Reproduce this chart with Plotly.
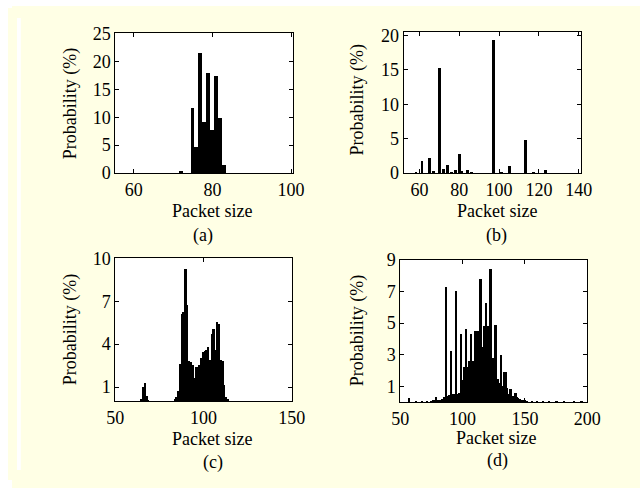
import plotly.graph_objects as go

# ---------------- data ----------------
# (a)
a_size = [72, 75, 76, 77, 78, 79, 80, 81, 82, 83]
a_prob = [0.15, 11.6, 4.7, 21.4, 9.1, 17.9, 7.6, 17.3, 9.8, 1.4]

# (b)
b_size = [58, 61, 65, 67, 70, 72, 74, 76, 78, 80, 81, 84, 86, 97, 101, 105, 113, 117, 123]
b_prob = [0.1, 1.8, 2.2, 0.3, 15.3, 0.6, 1.1, 0.2, 0.4, 2.8, 0.3, 0.5, 0.1, 19.4, 0.2, 1.0, 4.8, 0.2, 0.4]

# (c)
c_size = [65, 66, 67, 68, 69,
          84, 85, 86, 87, 88, 89, 90, 91, 92, 93, 94, 95, 96, 97, 98, 99,
          100, 101, 102, 103, 104, 105, 106, 107, 108, 109, 110, 111, 112, 113, 114]
c_prob = [0.1, 1.0, 1.25, 0.35, 0.05,
          0.1, 0.3, 0.7, 2.6, 6.1, 6.2, 9.2, 6.7, 2.8, 2.7, 2.5, 1.6, 2.4, 2.4, 2.5, 3.0,
          3.4, 3.5, 3.6, 3.8, 2.9, 4.7, 5.0, 3.6, 5.5, 5.4, 2.9, 2.8, 1.1, 0.3, 0.1]

# (d)
d_size = [57, 63, 68, 72, 75, 77, 79, 81, 82, 83, 84, 85, 86,
          87, 88, 89, 90, 91, 92, 93, 94, 95, 96, 97, 98, 99,
          100, 101, 102, 103, 104, 105, 106, 107, 108, 109, 110, 111, 112, 113, 114,
          115, 116, 117, 118, 119, 120, 121, 122, 123, 124, 125, 126, 127, 128, 129,
          130, 131, 132, 133, 134, 135, 136, 137, 138, 139, 140, 141, 142, 143, 144,
          145, 146, 147, 148, 150, 152, 156, 160, 165, 170, 176, 182, 190, 196]
d_prob = [0.25, 0.05, 0.05, 0.05, 0.05, 0.1, 0.3, 0.1, 0.15, 0.15, 0.2, 0.2, 0.3,
          7.3, 0.4, 0.45, 0.45, 3.25, 0.5, 0.5, 0.5, 7.05, 0.5, 0.5, 0.6, 4.3,
          1.4, 1.4, 2.2, 4.6, 2.2, 2.6, 2.6, 4.3, 2.6, 2.6, 4.5, 4.5, 4.5, 4.5, 3.5,
          7.8, 3.5, 3.5, 4.8, 6.3, 4.8, 4.8, 4.8, 8.45, 2.8, 2.8, 2.8, 4.85, 1.45, 1.45,
          1.2, 2.95, 1.0, 1.0, 1.9, 1.9, 0.9, 0.5, 0.5, 0.8, 0.4, 0.4, 0.3, 0.55, 0.3,
          0.25, 0.2, 0.15, 0.15, 0.1, 0.08, 0.05, 0.05, 0.05, 0.05, 0.05, 0.05, 0.08, 0.05]

x_ranges = [[55.3, 100.6], [52, 141], [50, 150], [50, 200]]
x_ticks = [[60, 80, 100], [60, 80, 100, 120, 140], [50, 100, 150], [50, 100, 150, 200]]
y_ranges = [[0, 25], [0, 20.5], [0, 10], [0, 9]]
y_ticks = [[0, 5, 10, 15, 20, 25], [0, 5, 10, 15, 20], [1, 4, 7, 10], [1, 3, 5, 7, 9]]
panel_labels = ["(a)", "(b)", "(c)", "(d)"]
x_title = "Packet size"
y_title = "Probability (%)"

# ---------------- layout geometry (page pixels) ----------------
PAGE_W, PAGE_H = 640, 488
OFF = 8                       # default body margin of the page
W, H = PAGE_W - 2 * OFF, PAGE_H - 2 * OFF   # figure fits the page exactly
BG = "#FFFFE5"
FONT = "Liberation Serif"
FS = 18

boxes = [  # left, right, top, bottom (page px)
    (110, 295, 24, 170),
    (409.3, 593.3, 22.7, 170),
    (110, 293.3, 259, 408.3),
    (406, 600, 260.7, 409),
]
ytitle_pos = [(63, 97), (361, 93), (63, 333), (361, 334)]
xtitle_pos = [(210, 210), (506.5, 210), (210, 447.5), (505.7, 447)]
label_pos = [(201, 235), (506, 235), (211, 472), (506.7, 470.5)]
bar_widths = [1.0, 1.4, 1.0, 1.6]

fx = lambda px: (px - OFF) / W
fy = lambda py: 1 - (py - OFF) / H

fig = go.Figure()
series = [(a_size, a_prob), (b_size, b_prob), (c_size, c_prob), (d_size, d_prob)]
for i, (xs, ys) in enumerate(series):
    n = "" if i == 0 else str(i + 1)
    fig.add_trace(go.Bar(
        x=xs, y=ys, width=bar_widths[i],
        marker=dict(color="black", line=dict(width=0)),
        xaxis="x" + n, yaxis="y" + n, showlegend=False, hoverinfo="x+y",
    ))

layout = dict(
    width=W, height=H,
    margin=dict(l=0, r=0, t=0, b=0),
    paper_bgcolor=BG, plot_bgcolor="white",
    font=dict(family=FONT, size=FS, color="black"),
    bargap=0, barmode="overlay",
    showlegend=False,
)
axis_common = dict(
    showline=True, linecolor="black", linewidth=1, mirror="ticks",
    ticks="inside", ticklen=4, tickcolor="black", tickwidth=1,
    showgrid=False, zeroline=False,
    tickfont=dict(family=FONT, size=FS, color="black"),
)
annotations = []
for i in range(4):
    n = "" if i == 0 else str(i + 1)
    l, r, t, b = boxes[i]
    layout["xaxis" + n] = dict(
        axis_common, domain=[fx(l), fx(r)], range=x_ranges[i],
        tickvals=x_ticks[i], anchor="y" + n,
    )
    layout["yaxis" + n] = dict(
        axis_common, domain=[fy(b), fy(t)], range=y_ranges[i],
        tickvals=y_ticks[i], anchor="x" + n,
    )
    annotations.append(dict(
        text=y_title, textangle=-90, x=fx(ytitle_pos[i][0]), y=fy(ytitle_pos[i][1]),
        xref="paper", yref="paper", xanchor="center", yanchor="middle",
        showarrow=False, font=dict(family=FONT, size=FS, color="black"),
    ))
    annotations.append(dict(
        text=x_title, x=fx(xtitle_pos[i][0]), y=fy(xtitle_pos[i][1]),
        xref="paper", yref="paper", xanchor="center", yanchor="middle",
        showarrow=False, font=dict(family=FONT, size=FS, color="black"),
    ))
    annotations.append(dict(
        text=panel_labels[i], x=fx(label_pos[i][0]), y=fy(label_pos[i][1]),
        xref="paper", yref="paper", xanchor="center", yanchor="middle",
        showarrow=False, font=dict(family=FONT, size=FS, color="black"),
    ))
layout["annotations"] = annotations
layout["shapes"] = [
    dict(type="rect", xref="paper", yref="paper", x0=0, x1=fx(12), y0=0, y1=1,
         fillcolor="white", line=dict(width=0), layer="below"),
]
fig.update_layout(**layout)

page_bg = ("linear-gradient(#ffffff,#ffffff) 0 0/100% 6px no-repeat,"
           "linear-gradient(#ffffff,#ffffff) 0 0/12px 100% no-repeat," + BG)
fig.write_html(
    "out.html",
    config={"displayModeBar": False},
    post_script="document.body.style.background='%s';" % page_bg,
)
